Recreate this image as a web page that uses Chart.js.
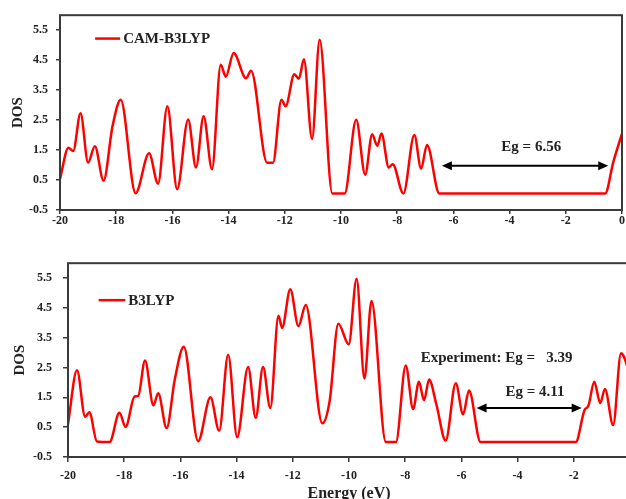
<!DOCTYPE html>
<html>
<head>
<meta charset="utf-8">
<title>DOS</title>
<script src="https://cdn.jsdelivr.net/npm/chart.js@4.4.1/dist/chart.umd.min.js"></script>
<style>
  html, body { margin: 0; padding: 0; background: #fff; overflow: hidden; }
  body { width: 626px; height: 499px; position: relative; }
  .panel { position: absolute; left: 0; }
  #top-panel { top: 0; width: 626px; height: 240px; }
  #bottom-panel { top: 245px; width: 640px; height: 258px; }
</style>
</head>
<body>
<div class="panel" id="top-panel"><canvas id="dosCam"></canvas></div>
<div class="panel" id="bottom-panel"><canvas id="dosB3"></canvas></div>
<script>
// CAM-B3LYP density of states (energy in eV)
const camEnergy = [-20, -19.7, -19.53, -19.27, -19.0, -18.76, -18.45, -18.13, -17.84, -17.31,
  -16.83, -16.51, -16.18, -15.83, -15.44, -15.16, -14.89, -14.59, -14.28, -14.1,
  -13.82, -13.38, -13.2, -12.63, -12.42, -12.12, -11.97, -11.66, -11.5, -11.32,
  -11.03, -10.76, -10.31, -9.87, -9.46, -9.14, -8.89, -8.71, -8.56, -8.3,
  -8.16, -7.78, -7.39, -7.15, -6.94, -6.5, -0.6, -0.31, 0];
const camDos = [0.53, 1.58, 1.47, 2.73, 1.08, 1.63, 0.48, 2.3, 3.18, 0.06,
  1.39, 0.38, 2.96, 0.19, 2.52, 0.92, 2.63, 0.86, 4.35, 3.95,
  4.74, 3.9, 4.15, 1.08, 1.08, 3.18, 2.96, 4.03, 3.88, 4.53,
  1.87, 5.18, 0.05, 0.05, 2.51, 0.68, 2.03, 1.64, 2.05, 0.92,
  1.03, 0.05, 2.0, 0.88, 1.67, 0.05, 0.05, 1.1, 2.05];

// B3LYP density of states
const b3Energy = [-20, -19.68, -19.39, -19.24, -18.97, -18.52, -18.17, -17.95, -17.63, -17.5,
  -17.26, -16.96, -16.79, -16.49, -16.2, -15.88, -15.37, -14.93, -14.62, -14.3,
  -13.98, -13.59, -13.32, -13.06, -12.8, -12.51, -12.38, -12.09, -11.8, -11.54,
  -10.95, -10.69, -10.38, -10.01, -9.73, -9.45, -9.2, -8.69, -8.33, -7.98,
  -7.72, -7.51, -7.33, -7.15, -6.89, -6.56, -6.2, -5.94, -5.73, -5.32,
  -1.93, -1.62, -1.48, -1.27, -1.06, -0.89, -0.6, -0.32, 0];
const b3Dos = [0.6, 2.41, 0.85, 1.0, 0.02, 0.0, 0.98, 0.51, 1.53, 1.55,
  2.74, 1.23, 1.64, 0.47, 2.1, 3.2, 0.03, 1.5, 0.38, 2.93,
  0.16, 2.52, 0.82, 2.52, 1.14, 4.24, 3.83, 5.13, 3.89, 4.6,
  0.63, 1.37, 3.97, 3.28, 5.48, 2.13, 4.73, 0.0, 0.0, 2.57,
  1.11, 2.02, 1.4, 2.1, 1.26, 0.05, 1.97, 0.93, 1.73, 0.0,
  0.0, 1.07, 1.22, 2.02, 1.31, 1.78, 0.57, 2.98, 2.3];

// axis ticks
const energyTicks = [-20, -18, -16, -14, -12, -10, -8, -6, -4, -2, 0];
const dosTicks = [-0.5, 0.5, 1.5, 2.5, 3.5, 4.5, 5.5];

// band gap arrows: [from, to, level]
const camGap = [-6.41, -0.49, 0.98];
const b3Gap = [-5.46, -1.72, 1.14];

const serif = '"Liberation Serif", "Times New Roman", serif';
const ink = '#222';
const frame = '#3a3a3a';

function drawArrow(ctx, x1, x2, y) {
    const head = 10, half = 4.5;
    ctx.beginPath();
    ctx.moveTo(x1 + head - 1, y);
    ctx.lineTo(x2 - head + 1, y);
    ctx.stroke();
    ctx.beginPath();
    ctx.moveTo(x1, y);
    ctx.lineTo(x1 + head, y - half);
    ctx.lineTo(x1 + head, y + half);
    ctx.closePath();
    ctx.fill();
    ctx.beginPath();
    ctx.moveTo(x2, y);
    ctx.lineTo(x2 - head, y - half);
    ctx.lineTo(x2 - head, y + half);
    ctx.closePath();
    ctx.fill();
}

// box around the plot, inline legend, gap arrow and its labels
const dosNotes = {
    id: 'dosNotes',
    afterDatasetsDraw(chart, args, opts) {
        const { ctx, chartArea: a, scales: { x, y } } = chart;
        ctx.save();
        ctx.strokeStyle = frame;
        ctx.lineWidth = 2;
        ctx.strokeRect(a.left, a.top, a.right - a.left, a.bottom - a.top);

        // legend line + name
        const lg = opts.legend;
        const ly = y.getPixelForValue(lg.y);
        ctx.strokeStyle = '#ff0000';
        ctx.lineWidth = 2.5;
        ctx.beginPath();
        ctx.moveTo(x.getPixelForValue(lg.from), ly);
        ctx.lineTo(x.getPixelForValue(lg.to), ly);
        ctx.stroke();
        ctx.fillStyle = ink;
        ctx.font = 'bold 15px ' + serif;
        ctx.textBaseline = 'middle';
        ctx.textAlign = 'left';
        ctx.fillText(lg.text, x.getPixelForValue(lg.to) + 3, ly + 1);

        // band gap
        const g = opts.gap;
        ctx.strokeStyle = '#000';
        ctx.fillStyle = '#000';
        ctx.lineWidth = 2;
        drawArrow(ctx, x.getPixelForValue(g[0]), x.getPixelForValue(g[1]), y.getPixelForValue(g[2]));

        ctx.fillStyle = ink;
        opts.labels.forEach(l => {
            ctx.textAlign = l.align;
            ctx.fillText(l.text, x.getPixelForValue(l.x), y.getPixelForValue(l.y));
        });
        ctx.restore();
    }
};

function makeDosChart(id, energy, dos, cfg) {
    const points = energy.map((e, i) => ({ x: e, y: dos[i] }));
    return new Chart(document.getElementById(id), {
        type: 'line',
        data: {
            datasets: [{
                label: cfg.legend.text,
                data: points,
                borderColor: '#ff0000',
                borderWidth: 2.5,
                pointRadius: 0,
                fill: false,
                cubicInterpolationMode: 'monotone'
            }]
        },
        options: {
            responsive: true,
            maintainAspectRatio: false,
            animation: false,
            layout: { padding: { top: cfg.padTop, right: cfg.padRight, left: 0, bottom: 0 } },
            scales: {
                x: {
                    type: 'linear',
                    min: -20,
                    max: 0,
                    afterBuildTicks: s => { s.ticks = energyTicks.map(v => ({ value: v })); },
                    afterFit: s => { s.height = cfg.xHeight; },
                    grid: { drawOnChartArea: false, drawTicks: true, tickLength: cfg.xTickLen, color: frame, lineWidth: 1.5 },
                    border: { display: false },
                    ticks: {
                        padding: cfg.xTickPad,
                        maxRotation: 0,
                        autoSkip: false,
                        color: ink,
                        font: { family: serif, size: 12, weight: 'bold' },
                        callback: v => String(v)
                    },
                    title: {
                        display: !!cfg.xTitle,
                        text: cfg.xTitle || '',
                        color: ink,
                        font: { family: serif, size: 16, weight: 'bold' },
                        padding: { top: 0, bottom: 0 }
                    }
                },
                y: {
                    min: -0.5,
                    max: 6,
                    afterBuildTicks: s => { s.ticks = dosTicks.map(v => ({ value: v })); },
                    afterFit: s => { s.width = cfg.yWidth; },
                    grid: { drawOnChartArea: false, drawTicks: true, tickLength: cfg.yTickLen, color: frame, lineWidth: 1.5 },
                    border: { display: false },
                    ticks: {
                        padding: cfg.yTickPad,
                        color: ink,
                        font: { family: serif, size: 12, weight: 'bold' },
                        callback: v => v.toFixed(1)
                    },
                    title: {
                        display: true,
                        text: 'DOS',
                        color: ink,
                        font: { family: serif, size: 15, weight: 'bold' },
                        padding: { top: cfg.yTitlePad, bottom: 0 }
                    }
                }
            },
            plugins: {
                legend: { display: false },
                tooltip: { enabled: false },
                dosNotes: { legend: cfg.legend, gap: cfg.gap, labels: cfg.labels }
            }
        },
        plugins: [dosNotes]
    });
}

makeDosChart('dosCam', camEnergy, camDos, {
    padTop: 13, padRight: 4, yWidth: 60, xHeight: 30,
    xTickLen: 4, xTickPad: 0, yTickLen: 4, yTickPad: 8, yTitlePad: 9,
    legend: { text: 'CAM-B3LYP', from: -18.75, to: -17.86, y: 5.22 },
    gap: camGap,
    labels: [{ text: 'Eg = 6.56', x: -3.23, y: 1.59, align: 'center' }]
});

makeDosChart('dosB3', b3Energy, b3Dos, {
    padTop: 14, padRight: 8, yWidth: 68, xHeight: 46,
    xTickLen: 5, xTickPad: 7, yTickLen: 5, yTickPad: 11, yTitlePad: 11,
    xTitle: 'Energy (eV)',
    legend: { text: 'B3LYP', from: -18.91, to: -17.96, y: 4.76 },
    gap: b3Gap,
    labels: [
        { text: 'Eg = 4.11', x: -3.38, y: 1.66, align: 'center' },
        { text: 'Experiment: Eg =   3.39', x: -7.45, y: 2.81, align: 'left' }
    ]
});
</script>
</body>
</html>
